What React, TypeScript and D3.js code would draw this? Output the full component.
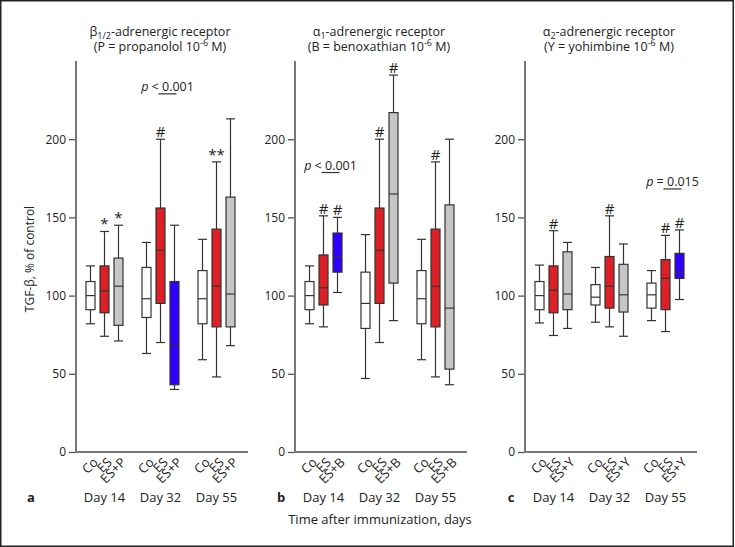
import React, { useEffect, useRef } from 'react';
import * as d3 from 'd3';

// Box stats: [min, q1, median, q3, max], 3 boxes per day (Co, ES, ES+drug)
const days = ['Day 14', 'Day 32', 'Day 55'];
const yTicks = [0, 50, 100, 150, 200];

const groupsA = ['Co', 'ES', 'ES+P'];
const statsA = [
  [82, 91, 100, 109, 119], [74, 89, 103, 119, 141], [71, 81, 106, 124, 145],
  [63, 86, 98, 118, 134], [70, 95, 129, 156, 200], [40, 43, 68, 109, 145],
  [59, 82, 98, 116, 136], [48, 80, 106, 142.5, 185.5], [68, 80, 101, 163, 213],
];
const fillsA = ['white', 'red', 'grey', 'white', 'red', 'blue', 'white', 'red', 'grey'];
const marksA = ['', '*', '*', '', '#', '', '', '**', ''];

const groupsB = ['Co', 'ES', 'ES+B'];
const statsB = [
  [82, 91, 100, 109, 119], [80, 94, 105, 126, 151], [102, 115, 125, 140, 150],
  [47, 79, 95, 115, 139], [70, 95, 129, 156, 200], [84, 108, 165, 217, 241],
  [59, 82, 98, 116, 136], [48, 80, 106, 142.5, 185.5], [43, 53, 92, 158, 200],
];
const fillsB = ['white', 'red', 'blue', 'white', 'red', 'grey', 'white', 'red', 'grey'];
const marksB = ['', '#', '#', '', '#', '#', '', '#', ''];

const groupsC = ['Co', 'ES', 'ES+Y'];
const statsC = [
  [82.5, 91, 100, 109, 119.5], [74.5, 89, 103.5, 119, 141.5], [79, 91, 101, 128, 134],
  [83, 94, 99, 107, 118], [80, 92, 106, 125, 151], [74, 89.5, 100.5, 120, 133],
  [84, 92, 100.5, 108, 116], [77, 91, 111, 123, 138.5], [97.5, 111, 115, 127, 142],
];
const fillsC = ['white', 'red', 'grey', 'white', 'red', 'grey', 'white', 'red', 'blue'];
const marksC = ['', '#', '', '', '#', '', '', '#', '#'];

// p-value annotations
const pA = { day: 'Day 32', from: 1, to: 2, level: 229, op: '<', val: '0.001' };
const pB = { day: 'Day 14', from: 1, to: 2, level: 178.7, op: '<', val: '0.001' };
const pC = { day: 'Day 55', from: 1, to: 2, level: 168.2, op: '=', val: '0.015' };

const palette: Record<string, string> = {
  white: '#ffffff',
  red: '#dd1f26',
  grey: '#c6c6c6',
  blue: '#2f00ff',
};

const panels = [
  { x0: 76, letterX: 31, letter: 'a', groups: groupsA, stats: statsA, fills: fillsA, marks: marksA, p: pA,
    title: ['β', '1/2', '-adrenergic receptor'], drug: '(P = propanolol 10' },
  { x0: 295, letterX: 281, letter: 'b', groups: groupsB, stats: statsB, fills: fillsB, marks: marksB, p: pB,
    title: ['α', '1', '-adrenergic receptor'], drug: '(B = benoxathian 10' },
  { x0: 525, letterX: 511, letter: 'c', groups: groupsC, stats: statsC, fills: fillsC, marks: marksC, p: pC,
    title: ['α', '2', '-adrenergic receptor'], drug: '(Y = yohimbine 10' },
];

const W = 735;
const H = 547;
const FONT = '"Open Sans", "Noto Sans", sans-serif';

const App: React.FC = () => {
  const svgRef = useRef<SVGSVGElement | null>(null);

  useEffect(() => {
    if (!svgRef.current) return;
    const svg = d3.select(svgRef.current);
    svg.selectAll('*').remove();

    svg.append('rect')
      .attr('x', 0.75).attr('y', 0.75)
      .attr('width', W - 2.5).attr('height', H - 1.5)
      .attr('fill', 'white')
      .attr('stroke', '#222').attr('stroke-width', 1.5);

    const y = d3.scaleLinear().domain([0, 250]).range([452, 61]);
    const axisLen = 172;
    const dayScale = d3.scalePoint<string>().domain(days).range([28.5, 140.5]);

    panels.forEach((pn) => {
      const g = svg.append('g').attr('transform', `translate(${pn.x0},0)`);
      const inner = d3.scalePoint<string>().domain(pn.groups).range([-14, 14]);
      const cx = (i: number) => dayScale(days[Math.floor(i / 3)])! + inner(pn.groups[i % 3])!;

      // title, two lines
      const t1 = g.append('text')
        .attr('x', axisLen / 2 - 2).attr('y', 36)
        .attr('text-anchor', 'middle')
        .style('font-family', FONT).style('font-size', '12.5px').style('fill', '#222');
      t1.append('tspan').text(pn.title[0]);
      t1.append('tspan').attr('baseline-shift', '-3').style('font-size', '9px').text(pn.title[1]);
      t1.append('tspan').text(pn.title[2]);
      const t2 = g.append('text')
        .attr('x', axisLen / 2 - 2).attr('y', 51)
        .attr('text-anchor', 'middle')
        .style('font-family', FONT).style('font-size', '12.5px').style('fill', '#222');
      t2.append('tspan').text(pn.drug);
      t2.append('tspan').attr('baseline-shift', '5').style('font-size', '9px').text('-6');
      t2.append('tspan').text(' M)');

      // y axis
      const yAxis = g.append('g').call(
        d3.axisLeft(y).tickValues(yTicks).tickSize(7).tickPadding(3).tickSizeOuter(0)
      );
      yAxis.select('.domain').remove();
      yAxis.selectAll('line').attr('stroke', '#555').attr('stroke-width', 1.3);
      yAxis.selectAll('text')
        .style('font-family', FONT).style('font-size', '12px').style('fill', '#222');
      g.append('line')
        .attr('x1', 0).attr('x2', 0).attr('y1', y(250)).attr('y2', y(0))
        .attr('stroke', '#777').attr('stroke-width', 2);
      g.append('line')
        .attr('x1', -1).attr('x2', axisLen).attr('y1', y(0)).attr('y2', y(0))
        .attr('stroke', '#777').attr('stroke-width', 2);

      // boxes
      const bw = 9;
      pn.stats.forEach((s, i) => {
        const x = cx(i);
        const [mn, q1, md, q3, mx] = s;
        const bg = g.append('g').attr('stroke', '#333').attr('stroke-width', 1.2);
        bg.append('line').attr('x1', x).attr('x2', x).attr('y1', y(mx)).attr('y2', y(mn));
        bg.append('line').attr('x1', x - 4.5).attr('x2', x + 4.5).attr('y1', y(mx)).attr('y2', y(mx));
        bg.append('line').attr('x1', x - 4.5).attr('x2', x + 4.5).attr('y1', y(mn)).attr('y2', y(mn));
        bg.append('rect')
          .attr('x', x - bw / 2).attr('y', y(q3))
          .attr('width', bw).attr('height', y(q1) - y(q3))
          .attr('fill', palette[pn.fills[i]]);
        bg.append('line').attr('x1', x - bw / 2).attr('x2', x + bw / 2).attr('y1', y(md)).attr('y2', y(md));
        if (pn.marks[i]) {
          g.append('text')
            .attr('x', x).attr('y', y(mx) - 2)
            .attr('text-anchor', 'middle')
            .style('font-family', FONT).style('font-size', '15px').style('fill', '#222')
            .text(pn.marks[i]);
        }
      });

      // x tick labels, rotated
      pn.stats.forEach((_, i) => {
        const x = cx(i) + 5;
        g.append('text')
          .attr('transform', `translate(${x},${460}) rotate(-45)`)
          .attr('text-anchor', 'end')
          .attr('dy', '0.35em')
          .style('font-family', FONT).style('font-size', '13px').style('fill', '#222')
          .text(pn.groups[i % 3]);
      });

      // day labels
      days.forEach((d) => {
        g.append('text')
          .attr('x', dayScale(d)!).attr('y', 502)
          .attr('text-anchor', 'middle')
          .style('font-family', FONT).style('font-size', '13px').style('fill', '#222')
          .text(d);
      });
      g.append('text')
        .attr('x', pn.letterX - pn.x0).attr('y', 502)
        .attr('text-anchor', 'middle')
        .style('font-family', FONT).style('font-size', '13px').style('font-weight', 'bold').style('fill', '#222')
        .text(pn.letter);

      // p annotation
      const px1 = dayScale(pn.p.day)! + inner(pn.groups[pn.p.from])!;
      const px2 = dayScale(pn.p.day)! + inner(pn.groups[pn.p.to])!;
      g.append('line')
        .attr('x1', px1 - 2).attr('x2', px2 + 2)
        .attr('y1', y(pn.p.level)).attr('y2', y(pn.p.level))
        .attr('stroke', '#333').attr('stroke-width', 1.2);
      const pt = g.append('text')
        .attr('x', (px1 + px2) / 2).attr('y', y(pn.p.level) - 3)
        .attr('text-anchor', 'middle')
        .style('font-family', FONT).style('font-size', '12.5px').style('fill', '#222');
      pt.append('tspan').style('font-style', 'italic').text('p');
      pt.append('tspan').text(` ${pn.p.op} ${pn.p.val}`);
    });

    // shared labels
    svg.append('text')
      .attr('transform', `translate(34,259) rotate(-90)`)
      .attr('text-anchor', 'middle')
      .style('font-family', FONT).style('font-size', '12px').style('fill', '#222')
      .text('TGF-β, % of control');
    svg.append('text')
      .attr('x', 380).attr('y', 524)
      .attr('text-anchor', 'middle')
      .style('font-family', FONT).style('font-size', '13px').style('fill', '#222')
      .text('Time after immunization, days');
  }, []);

  return (
    <svg
      ref={svgRef}
      width={W}
      height={H}
      style={{ position: 'absolute', left: 0, top: 0, display: 'block' }}
    />
  );
};

export default App;
